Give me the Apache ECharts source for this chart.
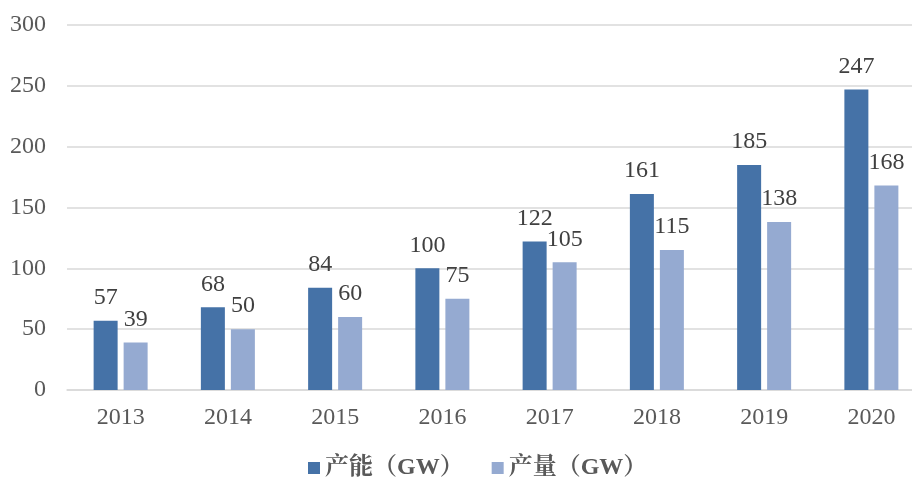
<!DOCTYPE html>
<html><head><meta charset="utf-8">
<script src="https://cdn.jsdelivr.net/npm/echarts@6/dist/echarts.min.js"></script>
<style>html,body{margin:0;padding:0;background:#fff}#c{width:912px;height:479px}</style>
</head><body><div id="c"></div>
<script>
const years = ['2013','2014','2015','2016','2017','2018','2019','2020'];
const capacity = [57,68,84,100,122,161,185,247];
const output = [39,50,60,75,105,115,138,168];
const seriesNames = ['产能（GW）','产量（GW）'];
const serif = '"Liberation Serif","Times New Roman","Noto Serif CJK SC","Noto Sans CJK SC",serif';
const chart = echarts.init(document.getElementById('c'));
const lbl = {show:true, position:'top', distance:11, color:'#404040', fontSize:24, fontFamily:serif};
chart.setOption({
  animation:false,
  grid:{left:67,width:858,top:25,bottom:89,outerBoundsMode:'none',containLabel:false},
  legend:{bottom:-6,left:303,itemWidth:12,itemHeight:12,itemGap:28,icon:'rect',
    textStyle:{fontSize:24,fontWeight:'bold',color:'#595959',fontFamily:serif},
    data:seriesNames},
  xAxis:{type:'category',data:years,
    axisLine:{lineStyle:{color:'#d9d9d9',width:1.5}},axisTick:{show:false},
    axisLabel:{color:'#595959',fontSize:24,fontFamily:serif,margin:16}},
  yAxis:{type:'value',min:0,max:300,interval:50,
    axisLine:{show:false},axisTick:{show:false},
    splitLine:{lineStyle:{color:'#d9d9d9',width:1.5}},
    axisLabel:{color:'#595959',fontSize:24,fontFamily:serif,margin:21}},
  series:[
    {name:seriesNames[0],type:'bar',data:capacity,barWidth:24,barGap:'25%',itemStyle:{color:'#4572a7'},label:lbl},
    {name:seriesNames[1],type:'bar',data:output,barWidth:24,itemStyle:{color:'#95aad1'},label:lbl}
  ]
});
</script></body></html>
